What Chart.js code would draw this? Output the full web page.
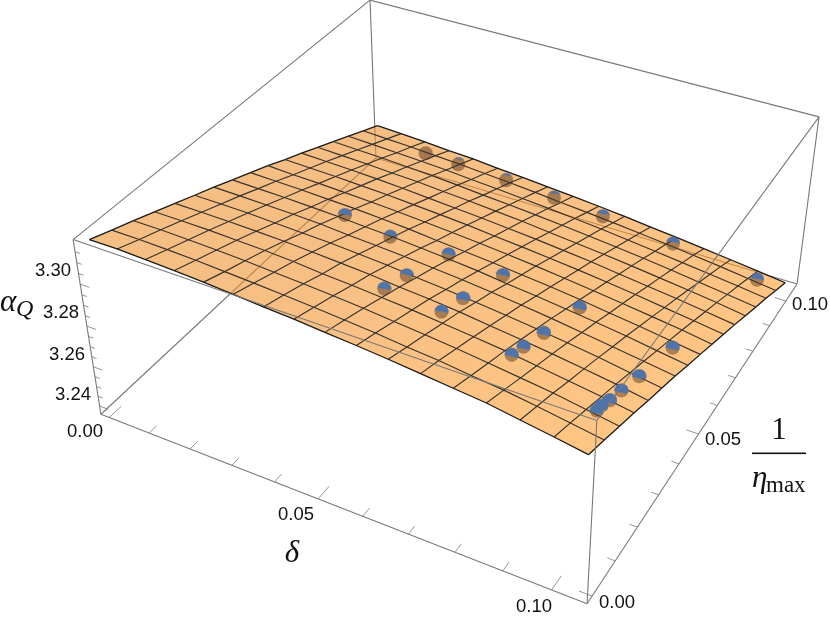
<!DOCTYPE html>
<html>
<head>
<meta charset="utf-8">
<style>
  html, body { margin: 0; padding: 0; background: #fff; }
  canvas { display: block; }
</style>
<script src="https://cdn.jsdelivr.net/npm/chart.js@4"></script>
</head>
<body>
<canvas id="chart" width="830" height="624"></canvas>
<script>
// fitted surface: mesh positions and alpha_Q at each node, one row per delta
const meshDelta = [0, 0.00656, 0.01313, 0.01969, 0.02625, 0.03281, 0.03938, 0.04594, 0.0525, 0.05906, 0.06563, 0.07219, 0.07875, 0.08531, 0.09188, 0.09844, 0.105];
const meshEta = [0, 0.00656, 0.01313, 0.01969, 0.02625, 0.03281, 0.03938, 0.04594, 0.0525, 0.05906, 0.06563, 0.07219, 0.07875, 0.08531, 0.09188, 0.09844, 0.105];
const meshAlpha = [
  [3.3193, 3.3157, 3.3122, 3.3086, 3.3049, 3.3012, 3.2976, 3.2937, 3.2899, 3.2861, 3.2819, 3.2780, 3.2739, 3.2698, 3.2656, 3.2615, 3.2573],
  [3.3194, 3.3157, 3.3122, 3.3086, 3.3048, 3.3011, 3.2974, 3.2934, 3.2896, 3.2854, 3.2815, 3.2776, 3.2734, 3.2693, 3.2650, 3.2609, 3.2567],
  [3.3190, 3.3154, 3.3119, 3.3084, 3.3046, 3.3009, 3.2971, 3.2931, 3.2893, 3.2851, 3.2811, 3.2771, 3.2729, 3.2688, 3.2644, 3.2603, 3.2560],
  [3.3185, 3.3149, 3.3115, 3.3080, 3.3043, 3.3003, 3.2967, 3.2926, 3.2887, 3.2845, 3.2805, 3.2765, 3.2722, 3.2681, 3.2637, 3.2595, 3.2550],
  [3.3178, 3.3142, 3.3109, 3.3075, 3.3038, 3.2998, 3.2962, 3.2921, 3.2882, 3.2839, 3.2799, 3.2757, 3.2716, 3.2674, 3.2630, 3.2588, 3.2544],
  [3.3169, 3.3135, 3.3101, 3.3068, 3.3031, 3.2993, 3.2952, 3.2913, 3.2874, 3.2831, 3.2790, 3.2747, 3.2706, 3.2664, 3.2619, 3.2577, 3.2532],
  [3.3159, 3.3127, 3.3093, 3.3056, 3.3023, 3.2984, 3.2944, 3.2905, 3.2865, 3.2822, 3.2781, 3.2738, 3.2697, 3.2652, 3.2610, 3.2567, 3.2522],
  [3.3151, 3.3118, 3.3084, 3.3048, 3.3014, 3.2975, 3.2935, 3.2895, 3.2852, 3.2812, 3.2771, 3.2728, 3.2686, 3.2642, 3.2599, 3.2556, 3.2511],
  [3.3140, 3.3107, 3.3073, 3.3037, 3.3001, 3.2962, 3.2924, 3.2884, 3.2841, 3.2801, 3.2758, 3.2717, 3.2675, 3.2631, 3.2588, 3.2543, 3.2500],
  [3.3130, 3.3096, 3.3060, 3.3026, 3.2991, 3.2950, 3.2912, 3.2872, 3.2829, 3.2789, 3.2746, 3.2705, 3.2661, 3.2619, 3.2576, 3.2531, 3.2487],
  [3.3118, 3.3082, 3.3047, 3.3012, 3.2977, 3.2936, 3.2898, 3.2855, 3.2815, 3.2775, 3.2732, 3.2691, 3.2647, 3.2605, 3.2563, 3.2518, 3.2474],
  [3.3104, 3.3070, 3.3033, 3.2997, 3.2960, 3.2921, 3.2883, 3.2841, 3.2801, 3.2759, 3.2718, 3.2677, 3.2634, 3.2591, 3.2547, 3.2504, 3.2458],
  [3.3090, 3.3053, 3.3017, 3.2982, 3.2943, 3.2905, 3.2866, 3.2824, 3.2785, 3.2743, 3.2702, 3.2659, 3.2618, 3.2576, 3.2531, 3.2489, 3.2443],
  [3.3076, 3.3038, 3.2999, 3.2962, 3.2925, 3.2887, 3.2846, 3.2807, 3.2765, 3.2725, 3.2685, 3.2642, 3.2601, 3.2559, 3.2515, 3.2473, 3.2427],
  [3.3053, 3.3017, 3.2981, 3.2942, 3.2905, 3.2867, 3.2826, 3.2788, 3.2747, 3.2707, 3.2665, 3.2625, 3.2584, 3.2540, 3.2498, 3.2456, 3.2411],
  [3.3031, 3.2995, 3.2958, 3.2921, 3.2884, 3.2844, 3.2806, 3.2766, 3.2727, 3.2688, 3.2646, 3.2606, 3.2565, 3.2522, 3.2481, 3.2437, 3.2394],
  [3.3007, 3.2972, 3.2934, 3.2898, 3.2859, 3.2822, 3.2785, 3.2745, 3.2706, 3.2665, 3.2626, 3.2586, 3.2544, 3.2503, 3.2462, 3.2419, 3.2376]
];

// computed runs shown as spheres
const runDelta = [0.0234, 0.0354, 0.0474, 0.0476, 0.0163, 0.0245, 0.0364, 0.0487, 0.0612, 0.0787, 0.0998, 0.0479, 0.0604, 0.0602, 0.0602, 0.0783, 0.0784, 0.0784, 0.0784, 0.0994, 0.0995, 0.0994, 0.0995, 0.0992, 0.0994];
const runEta = [0.0529, 0.0514, 0.0376, 0.0286, 0.0998, 0.1008, 0.1023, 0.1027, 0.1027, 0.1028, 0.1007, 0.0539, 0.0544, 0.0376, 0.0289, 0.0536, 0.0369, 0.0281, 0.0232, 0.0519, 0.0349, 0.0267, 0.0213, 0.0182, 0.0157];
const runAlpha = [3.2827, 3.2814, 3.2876, 3.2928, 3.2573, 3.2551, 3.2519, 3.2495, 3.2472, 3.2437, 3.2411, 3.2778, 3.2753, 3.2854, 3.2904, 3.2727, 3.2827, 3.2881, 3.2911, 3.2705, 3.2806, 3.2855, 3.2889, 3.2907, 3.2922];

// how much of each sphere pokes out above the surface
const capShare = [0.45, 0.4, 0.45, 0.5, 0, 0.12, 0.15, 0.2, 0.3, 0.4, 0.45, 0.5, 0.5, 0.6, 0.5, 0.6, 0.65, 0.65, 0.6, 0.6, 0.65, 0.65, 0.7, 0.75, 0.7];

// axes
const deltaRange = [-0.0021, 0.1071];
const etaRange = [-0.0021, 0.1071];
const alphaRange = [3.2357, 3.3205];
const deltaTicks = [0, 0.01, 0.02, 0.03, 0.04, 0.05, 0.06, 0.07, 0.08, 0.09, 0.1];
const etaTicks = [0, 0.01, 0.02, 0.03, 0.04, 0.05, 0.06, 0.07, 0.08, 0.09, 0.1];
const alphaTicks = [3.24, 3.245, 3.25, 3.255, 3.26, 3.265, 3.27, 3.275, 3.28, 3.285, 3.29, 3.295, 3.3, 3.305, 3.31, 3.315];
const deltaMajor = [0, 0.05, 0.1];
const etaMajor = [0, 0.05, 0.1];
const alphaMajor = [3.24, 3.26, 3.28, 3.3];

const tickLabels = [
  ['3.30', 53, 271], ['3.28', 61, 313], ['3.26', 67, 355], ['3.24', 73, 395],
  ['0.00', 85, 432], ['0.05', 296, 515], ['0.10', 534, 607],
  ['0.00', 617, 603], ['0.05', 723, 440], ['0.10', 810, 305]
];

// where the eight box corners land in the picture: [delta end, eta end, alpha end, px, py]
const boxCorners = [
  [0, 0, 0, 101, 414], [0, 0, 1, 73, 240],
  [1, 0, 0, 587, 604], [1, 0, 1, 597, 420],
  [1, 1, 0, 797, 284], [1, 1, 1, 819, 117],
  [0, 1, 0, 376, 158], [0, 1, 1, 370, 0]
];

// least squares fit of the perspective camera
function fitCamera(corners) {
  const rows = [], rhs = [];
  corners.forEach(([u, v, w, px, py]) => {
    rows.push([u, v, w, 1, 0, 0, 0, 0, -u * px, -v * px, -w * px]); rhs.push(px);
    rows.push([0, 0, 0, 0, u, v, w, 1, -u * py, -v * py, -w * py]); rhs.push(py);
  });
  const n = 11;
  const m = [];
  for (let i = 0; i < n; i++) {
    m.push([]);
    for (let j = 0; j < n; j++) m[i].push(rows.reduce((s, r) => s + r[i] * r[j], 0));
    m[i].push(rows.reduce((s, r, k) => s + r[i] * rhs[k], 0));
  }
  for (let c = 0; c < n; c++) {
    let p = c;
    for (let r = c + 1; r < n; r++) if (Math.abs(m[r][c]) > Math.abs(m[p][c])) p = r;
    [m[c], m[p]] = [m[p], m[c]];
    for (let r = 0; r < n; r++) {
      if (r === c) continue;
      const f = m[r][c] / m[c][c];
      for (let k = c; k <= n; k++) m[r][k] -= f * m[c][k];
    }
  }
  return m.map((r, i) => r[n] / r[i]);
}
const cam = fitCamera(boxCorners);

function project(d, e, a) {
  const u = (d - deltaRange[0]) / (deltaRange[1] - deltaRange[0]);
  const v = (e - etaRange[0]) / (etaRange[1] - etaRange[0]);
  const w = (a - alphaRange[0]) / (alphaRange[1] - alphaRange[0]);
  const den = cam[8] * u + cam[9] * v + cam[10] * w + 1;
  return {
    x: (cam[0] * u + cam[1] * v + cam[2] * w + cam[3]) / den,
    y: (cam[4] * u + cam[5] * v + cam[6] * w + cam[7]) / den
  };
}

const datasets = [];
function addLine(points, color, width) {
  datasets.push({ data: points, showLine: true, borderColor: color, borderWidth: width, pointRadius: 0, tension: 0, fill: false });
}

const boxGray = '#787878';
const [d0, d1] = deltaRange, [e0, e1] = etaRange, [a0, a1] = alphaRange;

// box edges that sit under the surface come first
addLine([project(d0, e1, a0), project(d0, e0, a0)], boxGray, 1.1);
addLine([project(d0, e1, a0), project(d1, e1, a0)], boxGray, 1.1);
addLine([project(d0, e1, a0), project(d0, e1, a1)], boxGray, 1.1);
addLine([project(d0, e0, a0), project(d1, e0, a0)], boxGray, 1.1);
addLine([project(d1, e0, a0), project(d1, e1, a0)], boxGray, 1.1);
addLine([project(d0, e0, a0), project(d0, e0, a1)], boxGray, 1.1);
addLine([project(d1, e1, a0), project(d1, e1, a1)], boxGray, 1.1);

deltaTicks.forEach(t => {
  const len = deltaMajor.includes(t) ? 0.004 : 0.0025;
  addLine([project(t, e0, a0), project(t, e0 + len, a0)], boxGray, 0.8);
});
etaTicks.forEach(t => {
  const len = etaMajor.includes(t) ? 0.0026 : 0.0016;
  addLine([project(d1, t, a0), project(d1 - len, t, a0)], boxGray, 0.8);
});
alphaTicks.forEach(t => {
  const len = alphaMajor.includes(t) ? 0.0022 : 0.0012;
  addLine([project(d0, e0, t), project(d0 + len, e0, t)], boxGray, 0.8);
});

// whole spheres; the see-through surface is painted right after these
const runPoints = runDelta.map((d, i) => project(d, runEta[i], runAlpha[i]));
const ballIndex = datasets.length;
datasets.push({ data: runPoints, backgroundColor: '#35527f', borderWidth: 0, pointRadius: 7, showLine: false });

// mesh
meshDelta.forEach((d, i) => {
  const edge = i === 0 || i === meshDelta.length - 1;
  addLine(meshEta.map((e, j) => project(d, e, meshAlpha[i][j])), edge ? '#1a1a1a' : '#38332e', edge ? 1.3 : 1.15);
});
meshEta.forEach((e, j) => {
  const edge = j === 0 || j === meshEta.length - 1;
  addLine(meshDelta.map((d, i) => project(d, e, meshAlpha[i][j])), edge ? '#1a1a1a' : '#38332e', edge ? 1.3 : 1.15);
});

// blue part of each sphere above the surface
function makeCap(share) {
  const c = document.createElement('canvas');
  c.width = 15; c.height = 15;
  const g = c.getContext('2d');
  const r = 7, cut = 7.5 - r + 2 * r * share;
  g.beginPath();
  g.arc(7.5, 7.5, r, 0, Math.PI * 2);
  g.clip();
  g.fillStyle = '#4f74ab';
  g.beginPath();
  g.moveTo(0, 0); g.lineTo(15, 0); g.lineTo(15, cut + 1.5); g.lineTo(0, cut - 1.5);
  g.closePath();
  g.fill();
  return c;
}
datasets.push({ data: runPoints, pointStyle: capShare.map(makeCap), pointRadius: 7, borderWidth: 0, showLine: false });

// front top edges pass over the surface
addLine([project(d0, e0, a1), project(d1, e0, a1)], boxGray, 1.1);
addLine([project(d1, e0, a1), project(d1, e1, a1)], boxGray, 1.1);
addLine([project(d1, e1, a1), project(d0, e1, a1)], boxGray, 1.1);
addLine([project(d0, e1, a1), project(d0, e0, a1)], boxGray, 1.1);
addLine([project(d1, e0, a0), project(d1, e0, a1)], boxGray, 1.1);

// Chart.js paints the lowest order last
datasets.forEach((ds, i) => { ds.order = datasets.length - i; });

const surfacePlugin = {
  id: 'surface',
  afterDatasetDraw(chart, args) {
    if (args.index !== ballIndex) return;
    const { ctx, scales } = chart;
    const last = meshDelta.length - 1;
    const rim = [];
    meshEta.forEach((e, j) => rim.push(project(meshDelta[0], e, meshAlpha[0][j])));
    meshDelta.forEach((d, i) => rim.push(project(d, meshEta[last], meshAlpha[i][last])));
    meshEta.slice().reverse().forEach((e, j) => rim.push(project(meshDelta[last], e, meshAlpha[last][last - j])));
    meshDelta.slice().reverse().forEach((d, i) => rim.push(project(d, meshEta[0], meshAlpha[last - i][0])));
    const from = project(meshDelta[0], meshEta[last], meshAlpha[0][last]);
    const to = project(meshDelta[last], meshEta[0], meshAlpha[last][0]);
    const grad = ctx.createLinearGradient(
      scales.x.getPixelForValue(from.x), scales.y.getPixelForValue(from.y),
      scales.x.getPixelForValue(to.x), scales.y.getPixelForValue(to.y));
    grad.addColorStop(0, 'rgba(238,146,48,0.6)');
    grad.addColorStop(1, 'rgba(254,158,48,0.6)');
    ctx.save();
    ctx.fillStyle = grad;
    ctx.beginPath();
    rim.forEach((p, i) => {
      const px = scales.x.getPixelForValue(p.x), py = scales.y.getPixelForValue(p.y);
      if (i === 0) ctx.moveTo(px, py); else ctx.lineTo(px, py);
    });
    ctx.closePath();
    ctx.fill();
    ctx.restore();
  }
};

const labelPlugin = {
  id: 'labels',
  afterDraw(chart) {
    const ctx = chart.ctx;
    ctx.save();
    ctx.fillStyle = '#111';
    ctx.textAlign = 'center';
    ctx.textBaseline = 'middle';
    ctx.font = '18.5px "Liberation Sans"';
    tickLabels.forEach(([t, x, y]) => ctx.fillText(t, x, y));

    ctx.textBaseline = 'alphabetic';
    ctx.textAlign = 'left';
    ctx.font = 'italic 31px "Liberation Serif"';
    ctx.fillText('α', 0, 311);
    ctx.font = 'italic 24px "Liberation Serif"';
    ctx.fillText('Q', 16, 316);

    ctx.font = 'italic 31px "Liberation Serif"';
    ctx.textAlign = 'center';
    ctx.fillText('δ', 292, 562);

    ctx.font = '31px "Liberation Serif"';
    ctx.fillText('1', 779, 439);
    ctx.fillRect(752, 452.5, 54, 1.6);
    ctx.textAlign = 'left';
    ctx.font = 'italic 31px "Liberation Serif"';
    ctx.fillText('η', 752, 487);
    ctx.font = '23px "Liberation Serif"';
    ctx.fillText('max', 766, 492);
    ctx.restore();
  }
};

new Chart(document.getElementById('chart').getContext('2d'), {
  type: 'scatter',
  data: { datasets },
  options: {
    responsive: false,
    animation: false,
    layout: { padding: 0, autoPadding: false },
    plugins: { legend: { display: false }, tooltip: { enabled: false } },
    scales: {
      x: { type: 'linear', min: 0, max: 830, display: false },
      y: { type: 'linear', min: 0, max: 624, reverse: true, display: false }
    }
  },
  plugins: [surfacePlugin, labelPlugin]
});
</script>
</body>
</html>
